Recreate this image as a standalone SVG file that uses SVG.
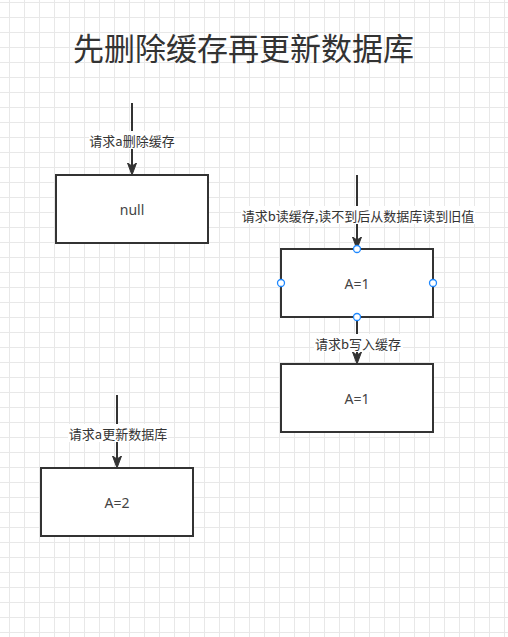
<svg xmlns="http://www.w3.org/2000/svg" width="508" height="637" viewBox="0 0 508 637">
  <style>
    .box { fill: #ffffff; stroke: #333333; stroke-width: 2; }
    .ntext { font-family: "Noto Sans", "Noto Sans CJK SC", sans-serif; font-size: 14px; fill: #444444; text-anchor: middle; dominant-baseline: central; }
    .edge { fill: none; stroke: #333333; stroke-width: 2; }
    .lbl { font-family: "Noto Sans CJK SC", sans-serif; font-size: 13px; fill: #333333; text-anchor: middle; dominant-baseline: central; }
    .lblbg { fill: #ffffff; }
    .port { fill: #ffffff; stroke: #1e88ff; stroke-width: 1.3; }
    .title { font-family: "Noto Sans CJK SC", sans-serif; font-size: 31px; fill: #333333; }
  </style>
  <defs>
    <pattern id="grid" width="15" height="15" patternUnits="userSpaceOnUse" x="9" y="2">
      <path d="M0.5 0V15M0 0.5H15" stroke="#e8e8e8" stroke-width="1" fill="none"/>
    </pattern>
    <marker id="arrow" viewBox="0 -6 13 12" refX="3" refY="0" markerWidth="13" markerHeight="12" markerUnits="userSpaceOnUse" orient="auto">
      <path d="M12,0 L0,-4.5 L3,0 L0,4.5 Z" fill="#333333" stroke="#333333" stroke-width="1"/>
    </marker>
  </defs>
  <rect x="0" y="0" width="508" height="637" fill="#ffffff"/>
  <rect x="0" y="0" width="508" height="637" fill="url(#grid)"/>

  <text class="title" x="73" y="60">先删除缓存再更新数据库</text>

  <g id="connectors">
    <path class="edge" d="M132,103 V166" marker-end="url(#arrow)"/>
    <path class="edge" d="M357,175 V240" marker-end="url(#arrow)"/>
    <path class="edge" d="M357,317 V355" marker-end="url(#arrow)"/>
    <path class="edge" d="M117,395 V459" marker-end="url(#arrow)"/>
    <g id="edge-labels">
      <rect class="lblbg" x="89" y="131" width="86" height="18"/>
      <text class="lbl" x="132" y="140">请求a删除缓存</text>
      <rect class="lblbg" x="241" y="206" width="234" height="18"/>
      <text class="lbl" x="358" y="215">请求b读缓存,读不到后从数据库读到旧值</text>
      <rect class="lblbg" x="314" y="334" width="89" height="18"/>
      <text class="lbl" x="358" y="343">请求b写入缓存</text>
      <rect class="lblbg" x="68" y="424" width="100" height="18"/>
      <text class="lbl" x="118" y="433">请求a更新数据库</text>
    </g>
  </g>

  <g id="node-null">
    <rect class="box" x="56" y="175" width="152" height="68"/>
    <text class="ntext" x="132" y="209">null</text>
  </g>

  <g id="node-a1-read">
    <rect class="box" x="281" y="249" width="152" height="68"/>
    <text class="ntext" x="357" y="283">A=1</text>
    <circle class="port" cx="357" cy="249" r="3.5"/>
    <circle class="port" cx="281" cy="283" r="3.5"/>
    <circle class="port" cx="433" cy="283" r="3.5"/>
    <circle class="port" cx="357" cy="317" r="3.5"/>
  </g>

  <g id="node-a1-cache">
    <rect class="box" x="281" y="364" width="152" height="68"/>
    <text class="ntext" x="357" y="398">A=1</text>
  </g>

  <g id="node-a2">
    <rect class="box" x="41" y="468" width="152" height="68"/>
    <text class="ntext" x="117" y="502">A=2</text>
  </g>
</svg>
